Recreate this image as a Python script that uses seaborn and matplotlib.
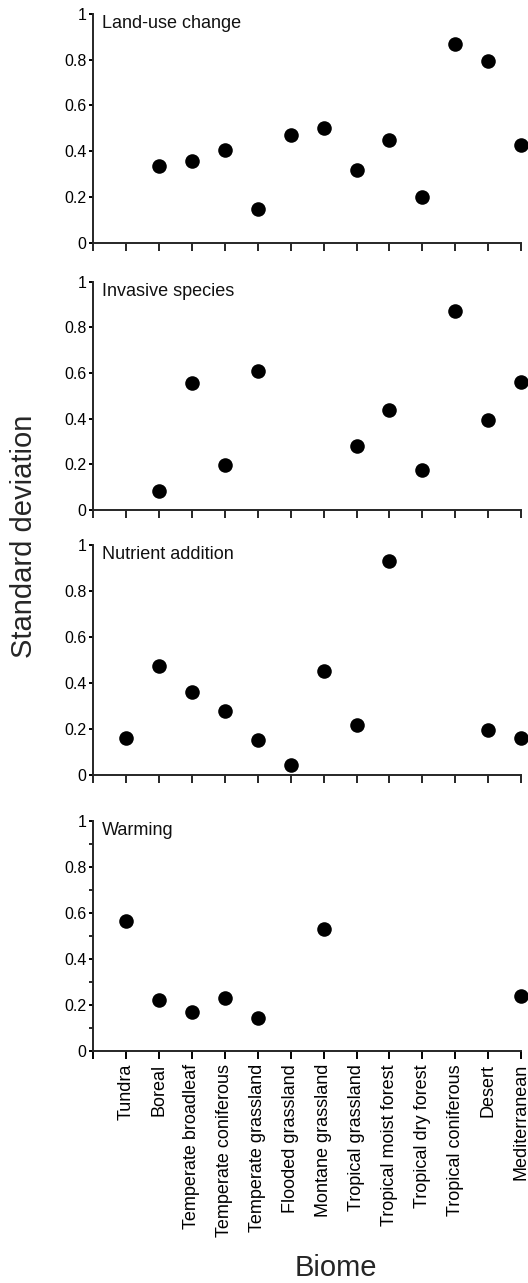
import numpy as np
import pandas as pd
import matplotlib
matplotlib.use("Agg")
import matplotlib.pyplot as plt
from matplotlib.ticker import FixedLocator, FuncFormatter, MultipleLocator
import seaborn as sns

biomes = [
    "Tundra", "Boreal", "Temperate broadleaf", "Temperate coniferous",
    "Temperate grassland", "Flooded grassland", "Montane grassland",
    "Tropical grassland", "Tropical moist forest", "Tropical dry forest",
    "Tropical coniferous", "Desert", "Mediterranean",
]

nan = np.nan
land_use_change = [nan, 0.335, 0.359, 0.404, 0.147, 0.471, 0.503,
                   0.318, 0.450, 0.198, 0.870, 0.794, 0.429]
invasive_species = [nan, 0.083, 0.558, 0.196, 0.607, nan, nan,
                    0.282, 0.438, 0.174, 0.873, 0.393, 0.559]
nutrient_addition = [0.159, 0.474, 0.362, 0.280, 0.152, 0.045, 0.452,
                     0.216, 0.929, nan, nan, 0.196, 0.162]
warming = [0.563, 0.222, 0.170, 0.228, 0.142, nan, 0.530,
           nan, nan, nan, nan, nan, 0.237]

drivers = ["Land-use change", "Invasive species", "Nutrient addition", "Warming"]
series = [land_use_change, invasive_species, nutrient_addition, warming]

sns.set_theme(style="ticks")
plt.rcParams["font.family"] = ["Liberation Sans", "DejaVu Sans"]
plt.rcParams["axes.linewidth"] = 1.4

W, H = 528, 1283
fig = plt.figure(figsize=(W / 100, H / 100), dpi=100)

left_px, right_px = 93.3, 521.0
panel_px = [(14.0, 242.7), (281.7, 510.0), (545.0, 775.0), (821.0, 1050.7)]

positions = np.arange(1, len(biomes) + 1)


def fmt(v, _):
    if abs(v) < 1e-9:
        return "0"
    if abs(v - 1) < 1e-9:
        return "1"
    return f"{v:.1f}"


for i, (name, vals) in enumerate(zip(drivers, series)):
    top, bot = panel_px[i]
    ax = fig.add_axes([left_px / W, 1 - bot / H,
                       (right_px - left_px) / W, (bot - top) / H])
    df = pd.DataFrame({"pos": positions, "sd": vals}).dropna()
    sns.scatterplot(data=df, x="pos", y="sd", ax=ax, s=110, color="black",
                    edgecolor="black", linewidth=0, clip_on=False, zorder=3)
    ax.set_xlim(0, len(biomes))
    ax.set_ylim(0, 1)
    ax.set_xlabel("")
    ax.set_ylabel("")
    sns.despine(ax=ax)

    ax.xaxis.set_major_locator(FixedLocator(np.arange(0, len(biomes) + 1)))
    ax.yaxis.set_major_locator(MultipleLocator(0.2))
    ax.yaxis.set_major_formatter(FuncFormatter(fmt))
    ax.tick_params(axis="x", length=5.5, width=1.4, direction="out")
    ax.tick_params(axis="y", length=3, width=1.4, direction="out",
                   labelsize=11.5, pad=2, colors="black")

    if i == len(drivers) - 1:
        ax.yaxis.set_minor_locator(MultipleLocator(0.1))
        ax.tick_params(axis="y", which="minor", length=3, width=1.4,
                       direction="out")
        ax.set_xticklabels([""] + biomes, rotation=90, fontsize=13)
        ax.tick_params(axis="x", pad=4, colors="black")
    else:
        ax.set_xticklabels([])

    ax.text(0.02, 0.995, name, transform=ax.transAxes, ha="left", va="top",
            fontsize=13, color="#111111")

fig.text(24 / W, 1 - 536 / H, "Standard deviation", rotation=90,
         ha="center", va="center", fontsize=21)
fig.text(336 / W, 1 - 1268 / H, "Biome", ha="center", va="center",
         fontsize=21)

fig.savefig("out.png", dpi=100, facecolor="white")
